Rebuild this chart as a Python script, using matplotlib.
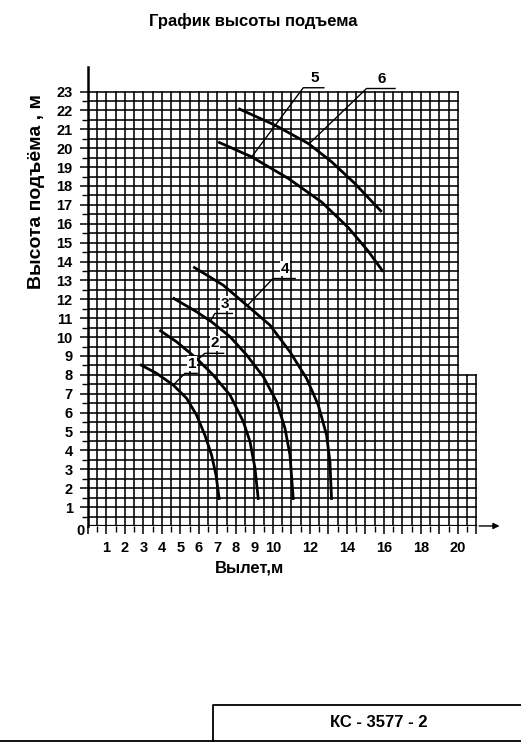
import matplotlib.pyplot as plt
import numpy as np

plt.rcParams['font.family'] = ['Liberation Sans', 'DejaVu Sans']

# данные кривых (вылет, м / высота, м)
x1 = [2.81, 3.71, 4.61, 5.33, 5.87, 6.32, 6.68, 6.92, 7.10]
y1 = [8.55, 8.08, 7.46, 6.76, 5.87, 4.81, 3.76, 2.70, 1.38]
x2 = [3.86, 4.79, 5.87, 6.77, 7.68, 8.40, 8.76, 9.03, 9.21]
y2 = [10.37, 9.75, 8.87, 7.99, 6.93, 5.52, 4.46, 3.05, 1.38]
x3 = [4.58, 5.87, 6.68, 7.68, 8.58, 9.48, 10.20, 10.65, 10.92, 11.10]
y3 = [12.08, 11.34, 10.81, 10.02, 9.05, 7.90, 6.58, 5.17, 3.76, 1.38]
x4 = [5.69, 7.31, 8.58, 9.84, 10.92, 11.82, 12.45, 12.90, 13.08, 13.17]
y4 = [13.72, 12.75, 11.69, 10.63, 9.22, 7.81, 6.40, 4.81, 3.40, 1.38]
x5 = [7.04, 8.85, 10.83, 12.63, 14.07, 15.15, 15.96]
y5 = [20.33, 19.54, 18.40, 17.15, 15.80, 14.55, 13.46]
x6 = [8.13, 10.11, 11.91, 13.17, 14.43, 15.88]
y6 = [22.10, 21.22, 20.25, 19.28, 18.13, 16.63]

curves = [(x1, y1), (x2, y2), (x3, y3), (x4, y4), (x5, y5), (x6, y6)]
names = ['1', '2', '3', '4', '5', '6']

# выноски: точка на кривой, начало подчёркивания, конец подчёркивания
lead_from = [(4.61, 7.46), (5.95, 8.82), (6.62, 10.85), (8.62, 11.67), (8.85, 19.54), (11.95, 20.23)]
lead_to = [(5.24, 8.08), (6.32, 9.14), (6.86, 11.25), (10.0, 13.1), (11.64, 23.2), (15.06, 23.16)]
under_end = [5.90, 7.33, 7.80, 11.2, 12.75, 16.6]

xtick_labels = [1, 2, 3, 4, 5, 6, 7, 8, 9, 10, 12, 14, 16, 18, 20]
ytick_labels = list(range(1, 24))

fig = plt.figure(figsize=(5.21, 7.45), dpi=100)
ax = fig.add_axes([0.1689, 0.2940, 0.8023, 0.6161])
ax.set_xlim(0, 22.6)
ax.set_ylim(0, 24.3)
for s in ['top', 'right', 'bottom']:
    ax.spines[s].set_visible(False)
ax.spines['left'].set_linewidth(1.8)

# сетка 0.5 м
gk = dict(color='black', lw=1.15, zorder=1)
for gy in np.arange(0, 23.01, 0.5):
    ax.plot([0, 21 if gy <= 8 else 20], [gy, gy], **gk)
for gx in np.arange(0, 21.01, 0.5):
    ax.plot([gx, gx], [0, 23 if gx <= 20 else 8], **gk)
ax.plot([0, 21], [0, 0], color='black', lw=1.6, zorder=2)
ax.annotate('', xy=(22.4, 0), xytext=(21, 0),
            arrowprops=dict(arrowstyle='-|>', color='black', lw=1.0, mutation_scale=9),
            annotation_clip=False)

for (cx, cy) in curves:
    ax.plot(cx, cy, color='black', lw=2.0, zorder=3,
            solid_joinstyle='round', solid_capstyle='butt')

for n, a, b, e in zip(names, lead_from, lead_to, under_end):
    ax.plot([a[0], b[0], e], [a[1], b[1], b[1]], color='black', lw=1.0, zorder=3)
    ax.text((b[0] + e) / 2 + 0.05, b[1] + 0.15, n, ha='center', va='bottom',
            fontsize=11, fontweight='bold', zorder=4,
            bbox=dict(facecolor='white', edgecolor='none', pad=0.3))

ax.set_xticks(range(0, 22))
ax.set_xticklabels([str(v) if v in xtick_labels else '' for v in range(0, 22)])
ax.set_xticks(np.arange(0.5, 21, 1), minor=True)
ax.set_yticks(ytick_labels)
ax.set_yticklabels([str(v) for v in ytick_labels])
ax.set_yticks(np.arange(0.5, 23.1, 1), minor=True)
ax.tick_params(axis='both', which='major', length=6, width=1.1, labelsize=10.5, pad=5)
ax.tick_params(axis='both', which='minor', length=4, width=1.0)
for t in ax.get_xticklabels() + ax.get_yticklabels():
    t.set_fontweight('bold')
ax.text(-0.2, -0.25, '0', ha='right', va='center', fontsize=10.5, fontweight='bold')

ax.set_xlabel('Вылет,м', fontsize=12, fontweight='bold')
ax.xaxis.set_label_coords(0.387, -0.075)
ax.set_ylabel('Высота подъёма , м', fontsize=14, fontweight='bold')
ax.yaxis.set_label_coords(-0.103, 0.728)

fig.text(0.486, 0.972, 'График высоты подъема', ha='center', va='center',
         fontsize=12, fontweight='bold')

# штамп
fig.add_artist(plt.Line2D([0, 1], [0.005, 0.005], color='black', lw=1.3))
fig.add_artist(plt.Line2D([213 / 521, 213 / 521, 1], [0.005, 0.054, 0.054], color='black', lw=1.3))
fig.text(0.727, 0.030, 'КС - 3577 - 2', ha='center', va='center', fontsize=12, fontweight='bold')

fig.savefig('out.png', dpi=100)
